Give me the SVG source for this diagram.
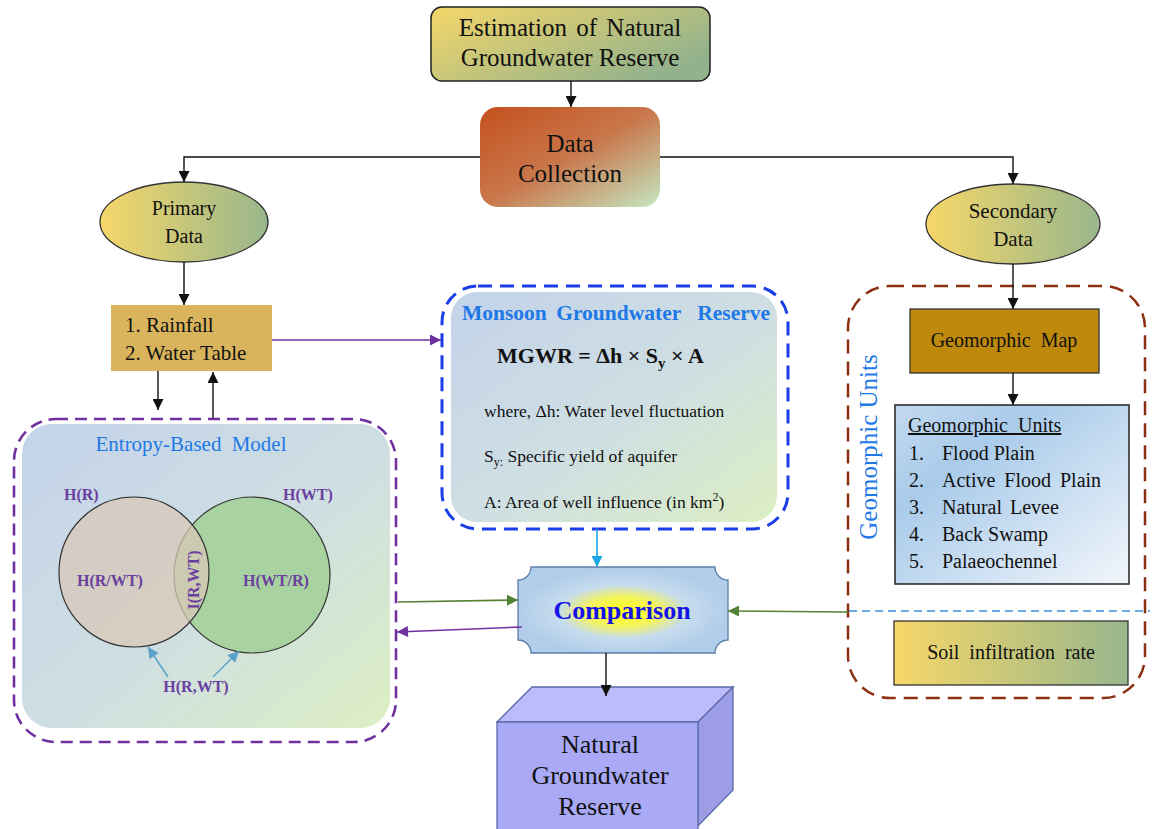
<svg xmlns="http://www.w3.org/2000/svg" width="1157" height="829" viewBox="0 0 1157 829" font-family="'Liberation Serif', 'DejaVu Serif', serif">
<style>
text{font-family:"Liberation Serif","DejaVu Serif",serif;fill:#111}
.c{text-anchor:middle}
.b{font-weight:bold}
.lbl{fill:#6b3fa0;font-weight:bold;font-size:16px}
.blue{fill:#1e78e6}
.blk{stroke:#111;stroke-width:1.4;fill:none}
</style>
<defs>
<linearGradient id="gy" x1="0" y1="0" x2="1" y2="0.6">
<stop offset="0" stop-color="#f6d769"/><stop offset="1" stop-color="#93b28c"/>
</linearGradient>
<linearGradient id="gyh" x1="0" y1="0" x2="1" y2="0">
<stop offset="0" stop-color="#f6d769"/><stop offset="1" stop-color="#98b68c"/>
</linearGradient>
<linearGradient id="gdc" x1="0" y1="0" x2="1" y2="1">
<stop offset="0" stop-color="#c4501c"/><stop offset="0.5" stop-color="#c9774c"/><stop offset="1" stop-color="#c4e8c2"/>
</linearGradient>
<linearGradient id="gbg" x1="0" y1="0" x2="1" y2="1">
<stop offset="0" stop-color="#c3d3ea"/><stop offset="0.55" stop-color="#cfdfe2"/><stop offset="1" stop-color="#dcefc2"/>
</linearGradient>
<linearGradient id="gunit" x1="0" y1="0" x2="1" y2="1">
<stop offset="0" stop-color="#c2d9ef"/><stop offset="0.3" stop-color="#a9cbea"/><stop offset="1" stop-color="#f2f6fb"/>
</linearGradient>
<radialGradient id="gcmp" cx="0.5" cy="0.52" r="0.5">
<stop offset="0" stop-color="#ffff10"/><stop offset="0.35" stop-color="#f3f360"/><stop offset="0.62" stop-color="#c6dcee"/><stop offset="1" stop-color="#b2cdea"/>
</radialGradient>
<marker id="ak" viewBox="0 0 10 10" refX="10" refY="5" markerWidth="12" markerHeight="11" markerUnits="userSpaceOnUse" orient="auto"><path d="M0,0 L10,5 L0,10 Z" fill="#111"/></marker>
<marker id="ag" viewBox="0 0 10 10" refX="10" refY="5" markerWidth="12" markerHeight="11" markerUnits="userSpaceOnUse" orient="auto"><path d="M0,0 L10,5 L0,10 Z" fill="#548235"/></marker>
<marker id="ap" viewBox="0 0 10 10" refX="10" refY="5" markerWidth="12" markerHeight="11" markerUnits="userSpaceOnUse" orient="auto"><path d="M0,0 L10,5 L0,10 Z" fill="#7030a0"/></marker>
<marker id="ac" viewBox="0 0 10 10" refX="10" refY="5" markerWidth="12" markerHeight="11" markerUnits="userSpaceOnUse" orient="auto"><path d="M0,0 L10,5 L0,10 Z" fill="#1aa7e6"/></marker>
<marker id="as" viewBox="0 0 10 10" refX="10" refY="5" markerWidth="12" markerHeight="11" markerUnits="userSpaceOnUse" orient="auto"><path d="M0,0 L10,5 L0,10 Z" fill="#5ba3c9"/></marker>
</defs>
<rect width="1157" height="829" fill="#fff"/>

<g id="entropy-model">
<rect x="22" y="424" width="368" height="304" rx="30" fill="url(#gbg)"/>
<rect x="14" y="419" width="382" height="323" rx="42" fill="none" stroke="#7030a0" stroke-width="2.6" stroke-dasharray="12 7"/>
<text x="191" y="451" class="c blue" font-size="21" word-spacing="5">Entropy-Based Model</text>
<circle cx="252" cy="575" r="78" fill="#a8d3a0" stroke="#333" stroke-width="1.2"/>
<circle cx="134" cy="572" r="75" fill="#d8c8b8" fill-opacity="0.75" stroke="#333" stroke-width="1.2"/>
<text x="64" y="500" class="lbl">H(R)</text>
<text x="283" y="500" class="lbl">H(WT)</text>
<text x="77" y="586" class="lbl">H(R/WT)</text>
<text x="243" y="586" class="lbl">H(WT/R)</text>
<text transform="translate(199,580) rotate(-90)" class="lbl c">I(R,WT)</text>
<text x="196" y="692" class="lbl c">H(R,WT)</text>
<line x1="168" y1="677" x2="148" y2="647" stroke="#5ba3c9" stroke-width="1.5" marker-end="url(#as)"/>
<line x1="213" y1="677" x2="239" y2="651" stroke="#5ba3c9" stroke-width="1.5" marker-end="url(#as)"/>
</g>

<g id="estimation">
<rect x="431" y="7" width="279" height="74" rx="11" fill="url(#gy)" stroke="#222" stroke-width="1.5"/>
<text x="570" y="36" class="c" font-size="25" word-spacing="3">Estimation of Natural</text>
<text x="570" y="66" class="c" font-size="25">Groundwater Reserve</text>
</g>

<g id="data-collection">
<rect x="480" y="107" width="180" height="100" rx="18" fill="url(#gdc)"/>
<text x="570" y="152" class="c" font-size="25">Data</text>
<text x="570" y="182" class="c" font-size="25">Collection</text>
</g>

<g id="primary-data">
<ellipse cx="184" cy="222" rx="84" ry="40" fill="url(#gyh)" stroke="#333" stroke-width="1.3"/>
<text x="184" y="215" class="c" font-size="20">Primary</text>
<text x="184" y="243" class="c" font-size="20">Data</text>
</g>

<g id="secondary-data">
<ellipse cx="1013" cy="224" rx="87" ry="40" fill="url(#gyh)" stroke="#333" stroke-width="1.3"/>
<text x="1013" y="218" class="c" font-size="21">Secondary</text>
<text x="1013" y="246" class="c" font-size="21">Data</text>
</g>

<g id="rainfall-watertable">
<rect x="111" y="305" width="161" height="66" fill="#d9b45c"/>
<text x="125" y="332" font-size="21">1. Rainfall</text>
<text x="125" y="360" font-size="21">2. Water Table</text>
</g>

<g id="monsoon-reserve">
<rect x="451" y="292" width="326" height="230" rx="26" fill="url(#gbg)"/>
<rect x="442" y="286" width="346" height="243" rx="36" fill="none" stroke="#1a3de8" stroke-width="3" stroke-dasharray="14 8"/>
<text x="462" y="320" class="b blue" font-size="21.5" word-spacing="4">Monsoon Groundwater <tspan dx="7">Reserve</tspan></text>
<text x="497" y="363" class="b" font-size="22">MGWR = Δh × S<tspan font-size="15" dy="5">y</tspan><tspan dy="-5"> × A</tspan></text>
<text x="484" y="417" font-size="17.5">where, Δh: Water level  fluctuation</text>
<text x="484" y="462" font-size="17.5">S<tspan font-size="12" dy="4">y:</tspan><tspan dy="-4"> Specific yield of aquifer</tspan></text>
<text x="484" y="508" font-size="17.5">A: Area of well influence (in km<tspan font-size="12" dy="-7">2</tspan><tspan dy="7">)</tspan></text>
</g>

<g id="comparison">
<path d="M531,567 L715,567 A13,13 0 0 0 728,580 L728,640 A13,13 0 0 0 715,653 L531,653 A13,13 0 0 0 518,640 L518,580 A13,13 0 0 0 531,567 Z" fill="url(#gcmp)" stroke="#5b7fa8" stroke-width="1.3"/>
<text x="622" y="619" class="c b" font-size="26" style="fill:#1414e6">Comparison</text>
</g>

<g id="natural-reserve">
<polygon points="497,722 532,687 733,687 698,722" fill="#bcbcfa" stroke="#5a6aa8" stroke-width="1.3"/>
<polygon points="698,722 733,687 733,790 698,826" fill="#9d9de6" stroke="#5a6aa8" stroke-width="1.3"/>
<rect x="497" y="722" width="201" height="110" fill="#a9a9f6" stroke="#5a6aa8" stroke-width="1.3"/>
<text x="600" y="753" class="c" font-size="26">Natural</text>
<text x="600" y="784" class="c" font-size="26">Groundwater</text>
<text x="600" y="815" class="c" font-size="26">Reserve</text>
</g>

<g id="geomorphic-group">
<rect x="848" y="286" width="297" height="412" rx="42" fill="none" stroke="#8b3010" stroke-width="2.5" stroke-dasharray="14 8"/>
<text transform="translate(877,447) rotate(-90)" class="c blue" font-size="25">Geomorphic Units</text>
</g>

<g id="geomorphic-map">
<rect x="910" y="309" width="189" height="64" fill="#bf8a0c" stroke="#333" stroke-width="1.3"/>
<text x="1004" y="347" class="c" font-size="20" word-spacing="5">Geomorphic Map</text>
</g>

<g id="geomorphic-units">
<rect x="895" y="405" width="234" height="179" fill="url(#gunit)" stroke="#222" stroke-width="1.5"/>
<text x="908" y="432" font-size="20" word-spacing="5" text-decoration="underline">Geomorphic Units</text>
<text x="909" y="460" font-size="20">1.</text><text x="942" y="460" font-size="20">Flood Plain</text>
<text x="909" y="487" font-size="20">2.</text><text x="942" y="487" font-size="20" word-spacing="4">Active Flood Plain</text>
<text x="909" y="514" font-size="20">3.</text><text x="942" y="514" font-size="20" word-spacing="3">Natural Levee</text>
<text x="909" y="541" font-size="20">4.</text><text x="942" y="541" font-size="20">Back Swamp</text>
<text x="909" y="568" font-size="20">5.</text><text x="942" y="568" font-size="20">Palaeochennel</text>
</g>

<g id="soil-infiltration">
<rect x="894" y="621" width="234" height="64" fill="url(#gyh)" stroke="#333" stroke-width="1.3"/>
<text x="1011" y="659" class="c" font-size="20" word-spacing="5">Soil infiltration rate</text>
</g>

<g id="connectors">
<line x1="571" y1="81" x2="571" y2="107" class="blk" marker-end="url(#ak)"/>
<polyline points="480,157 184,157 184,182" class="blk" marker-end="url(#ak)"/>
<polyline points="660,157 1013,157 1013,184" class="blk" marker-end="url(#ak)"/>
<line x1="184" y1="262" x2="184" y2="305" class="blk" marker-end="url(#ak)"/>
<line x1="158" y1="371" x2="158" y2="410" class="blk" marker-end="url(#ak)"/>
<line x1="213" y1="418" x2="213" y2="372" class="blk" marker-end="url(#ak)"/>
<line x1="272" y1="340" x2="441" y2="340" stroke="#7030a0" stroke-width="1.5" marker-end="url(#ap)"/>
<line x1="1013" y1="264" x2="1013" y2="309" class="blk" marker-end="url(#ak)"/>
<line x1="1013" y1="373" x2="1013" y2="405" class="blk" marker-end="url(#ak)"/>
<line x1="597" y1="529" x2="597" y2="567" stroke="#1aa7e6" stroke-width="1.6" marker-end="url(#ac)"/>
<line x1="398" y1="602" x2="518" y2="600" stroke="#548235" stroke-width="1.6" marker-end="url(#ag)"/>
<line x1="522" y1="627" x2="397" y2="632" stroke="#7030a0" stroke-width="1.6" marker-end="url(#ap)"/>
<line x1="848" y1="612" x2="728" y2="611" stroke="#548235" stroke-width="1.6" marker-end="url(#ag)"/>
<line x1="849" y1="611" x2="1150" y2="611" stroke="#3a8ee0" stroke-width="1.6" stroke-dasharray="8 5"/>
<line x1="606" y1="653" x2="606" y2="696" class="blk" marker-end="url(#ak)"/>
</g>
</svg>
